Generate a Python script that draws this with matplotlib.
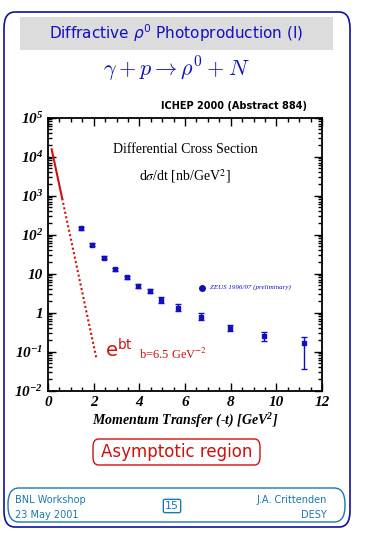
import matplotlib
matplotlib.use("Agg")
import matplotlib.pyplot as plt
import matplotlib.ticker as ticker
from matplotlib.patches import FancyBboxPatch, Rectangle
import numpy as np

# ZEUS 1996/97 (preliminary) data
t_vals = [1.43, 1.94, 2.45, 2.93, 3.44, 3.95, 4.48, 4.96, 5.70, 6.70, 7.96, 9.48, 11.22]
dsig = [146, 55, 26, 13, 8.1, 4.8, 3.6, 2.1, 1.35, 0.79, 0.41, 0.25, 0.17]
dsig_lo = [135, 51, 24, 12, 7.4, 4.3, 3.2, 1.8, 1.1, 0.65, 0.34, 0.19, 0.035]
dsig_hi = [158, 60, 28, 14, 8.9, 5.3, 4.0, 2.5, 1.66, 1.0, 0.48, 0.32, 0.24]

# exponential e^{bt}, slope and normalisation as drawn in the picture
fit_b = 6.3
fit_a = 4.25e4
t_solid = [0.16, 0.62]
t_dot = [0.62, 2.13]

ytick_vals = [1e-2, 1e-1, 1, 10, 1e2, 1e3, 1e4, 1e5]
ytick_labels = ['10$^{-2}$', '10$^{-1}$', '1', '10', '10$^{2}$', '10$^{3}$', '10$^{4}$', '10$^{5}$']
xtick_vals = [0, 2, 4, 6, 8, 10, 12]

blue = '#1010c0'
red = '#d01010'
teal = '#1a78b0'

plt.rcParams['mathtext.fontset'] = 'custom'
plt.rcParams['mathtext.rm'] = 'Liberation Serif:bold:italic'
plt.rcParams['mathtext.it'] = 'Liberation Serif:bold:italic'

fig = plt.figure(figsize=(3.65, 5.35), dpi=100)
W, H = 365.0, 535.0

def fx(px):
    return px / W

def fy(py):
    return 1 - py / H

# outer frame
fig.patches.append(FancyBboxPatch((fx(4), fy(527)), fx(346), (527 - 12) / H,
                                  boxstyle="round,pad=0,rounding_size=0.03",
                                  transform=fig.transFigure, fill=False,
                                  edgecolor='#1010a0', linewidth=1.2))
# title box
fig.patches.append(Rectangle((fx(20), fy(50)), fx(313), 33 / H, transform=fig.transFigure,
                             facecolor='#dcdcdc', edgecolor='none'))
fig.text(fx(176), fy(33), r'Diffractive $\rho^0$ Photoproduction (I)', ha='center', va='center',
         color=blue, fontsize=11, family='DejaVu Sans', math_fontfamily='dejavusans')
fig.text(fx(176), fy(69), r'$\gamma + p \rightarrow \rho^0 + N$', ha='center', va='center',
         color=blue, fontsize=16, math_fontfamily='cm')

ax = fig.add_axes([fx(48), fy(390.7), fx(274), (390.7 - 117.7) / H])
ax.set_yscale('log')
ax.set_xlim(0, 12)
ax.set_ylim(1e-2, 1e5)

yerr = [np.array(dsig) - np.array(dsig_lo), np.array(dsig_hi) - np.array(dsig)]
ax.errorbar(t_vals, dsig, yerr=yerr, fmt='s', color=blue, markersize=3, elinewidth=1,
            capsize=2, capthick=1)

ts = np.linspace(t_solid[0], t_solid[1], 20)
ax.plot(ts, fit_a * np.exp(-fit_b * ts), color=red, linewidth=1.5)
td = np.linspace(t_dot[0], t_dot[1], 40)
ax.plot(td, fit_a * np.exp(-fit_b * td), color=red, linewidth=1.5, linestyle=(0, (1, 1.2)))

ax.set_yticks(ytick_vals)
ax.set_yticklabels(ytick_labels)
ax.yaxis.set_minor_locator(ticker.LogLocator(base=10, subs=np.arange(2, 10)))
ax.yaxis.set_minor_formatter(ticker.NullFormatter())
ax.set_xticks(xtick_vals)
ax.xaxis.set_minor_locator(ticker.MultipleLocator(0.5))
ax.tick_params(which='both', direction='in', top=True, right=True, width=1)
ax.tick_params(which='major', length=6)
ax.tick_params(which='minor', length=3)
for lab in ax.get_xticklabels() + ax.get_yticklabels():
    lab.set_family('Liberation Serif')
    lab.set_fontweight('bold')
    lab.set_fontstyle('italic')
    lab.set_fontsize(11)
for sp in ax.spines.values():
    sp.set_linewidth(1.3)

ax.set_xlabel('Momentum Transfer (-t) [GeV$^{2}$]', family='Liberation Serif', fontweight='bold',
              style='italic', fontsize=10, labelpad=2)

ax.text(0.5, 0.885, 'Differential Cross Section', transform=ax.transAxes, ha='center',
        va='center', family='Liberation Serif', fontsize=10)
ax.text(0.5, 0.785, r'd$\sigma$/dt [nb/GeV$^2$]', transform=ax.transAxes, ha='center',
        va='center', family='Liberation Serif', fontsize=10, math_fontfamily='stix')
ax.plot([0.563], [0.378], 'o', color=blue, markersize=4, transform=ax.transAxes)
ax.text(0.59, 0.378, 'ZEUS 1996/97 (preliminary)', transform=ax.transAxes, ha='left',
        va='center', family='Liberation Serif', style='italic', fontsize=5, color=blue)
ax.text(2.5, 0.055, r'e$^{\rm bt}$', ha='left', va='bottom', color=red, fontsize=14,
        family='DejaVu Sans', math_fontfamily='dejavusans')
ax.text(4.0, 0.055, r'b=6.5 GeV$^{-2}$', ha='left', va='bottom', color=red, fontsize=9,
        family='Liberation Serif', math_fontfamily='stix')

fig.text(fx(307), fy(106), 'ICHEP 2000 (Abstract 884)', ha='right', va='center',
         fontsize=7, fontweight='bold', family='DejaVu Sans')

# asymptotic region box
fig.patches.append(FancyBboxPatch((fx(93), fy(465)), fx(167), 26 / H,
                                  boxstyle="round,pad=0,rounding_size=0.015",
                                  transform=fig.transFigure, fill=False,
                                  edgecolor=red, linewidth=1))
fig.text(fx(176.5), fy(452), 'Asymptotic region', ha='center', va='center', color=red,
         fontsize=12, family='DejaVu Sans')

# footer
fig.patches.append(FancyBboxPatch((fx(8), fy(522)), fx(337), 34 / H,
                                  boxstyle="round,pad=0,rounding_size=0.03",
                                  transform=fig.transFigure, fill=False,
                                  edgecolor=teal, linewidth=1))
fig.text(fx(15), fy(500), 'BNL Workshop', ha='left', va='center', color=teal, fontsize=7)
fig.text(fx(15), fy(515), '23 May 2001', ha='left', va='center', color=teal, fontsize=7)
fig.text(fx(327), fy(500), 'J.A. Crittenden', ha='right', va='center', color=teal, fontsize=7)
fig.text(fx(327), fy(515), 'DESY', ha='right', va='center', color=teal, fontsize=7)
fig.text(fx(172), fy(506), '15', ha='center', va='center', color=teal, fontsize=8,
         bbox=dict(boxstyle='round,pad=0.15', facecolor='none', edgecolor=teal, linewidth=1))

fig.savefig('out.png', dpi=100)
